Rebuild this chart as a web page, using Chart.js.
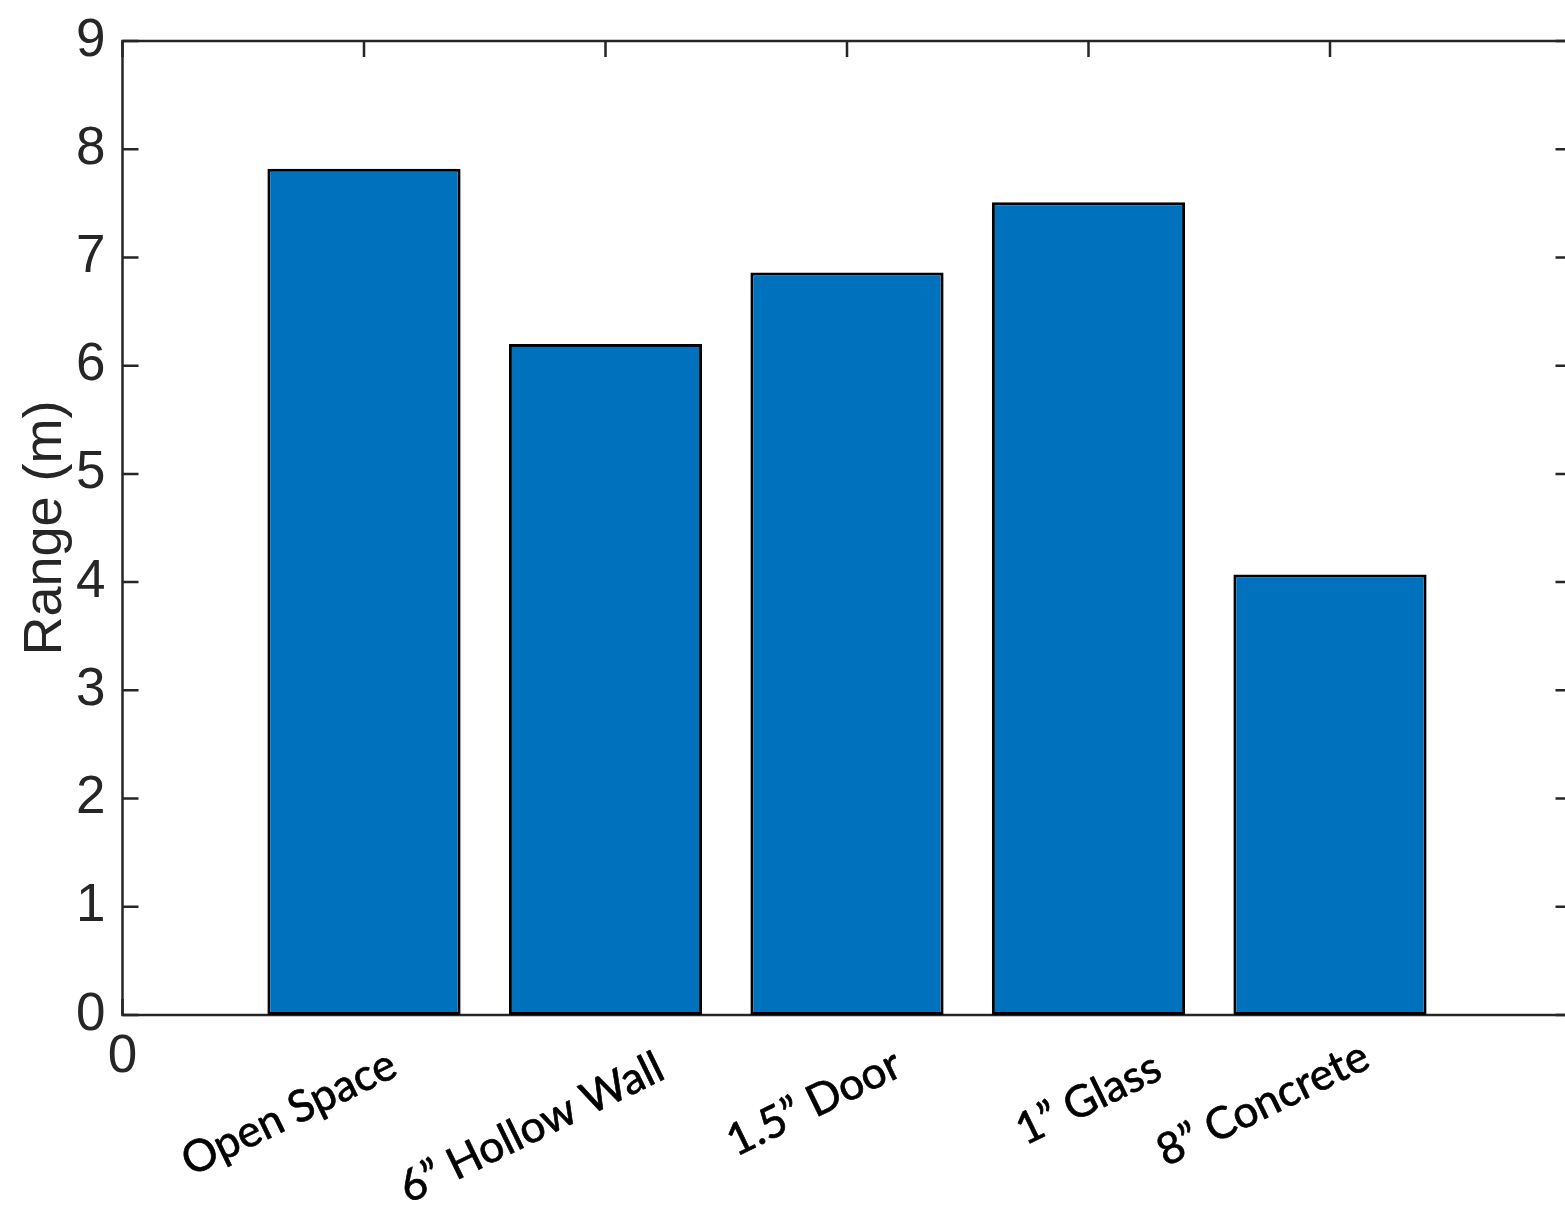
<!DOCTYPE html>
<html>
<head>
<meta charset="utf-8">
<title>Range by obstruction</title>
<script src="https://cdn.jsdelivr.net/npm/chart.js@4.4.1/dist/chart.umd.min.js"></script>
<style>
  html, body { margin: 0; padding: 0; background: #ffffff; }
  #wrap { width: 1565px; height: 1210px; overflow: hidden; position: relative; }
  canvas { display: block; }
</style>
</head>
<body>
<div id="wrap"><canvas id="c" width="1600" height="1210"></canvas></div>
<script>
// ---- data ----
const categories = ['Open Space', '6\u201D Hollow Wall', '1.5\u201D Door', '1\u201D Glass', '8\u201D Concrete'];
const rangeMeters = [7.82, 6.20, 6.86, 7.51, 4.07];
const yTickLabels = ['0', '1', '2', '3', '4', '5', '6', '7', '8', '9'];
const xTickLabels = ['0'];

// ---- styling ----
const AXIS_COLOR = '#262626';
const BAR_COLOR = '#0072BD';
const TICK_LEN = 16;
const AXIS_FONT = 'Liberation Sans, Arial, Helvetica, sans-serif';
const LABEL_FONT = 'Lato, "Open Sans", sans-serif';

// hand-placed category captions: offset of each caption centre from its bar, px
const captionNudge = [
  { dx: -75, dy: 98 },
  { dx: -74, dy: 113 },
  { dx: -33, dy: 88 },
  { dx: 0, dy: 84 },
  { dx: -67, dy: 89 }
];
const CAPTION_ANGLE = -26 * Math.PI / 180;

// box around the plot with inward-pointing ticks on all four sides
const framePlugin = {
  id: 'frame',
  beforeDatasetsDraw(chart) {
    const { ctx, chartArea: a, scales: { x, y } } = chart;
    ctx.save();
    ctx.strokeStyle = AXIS_COLOR;
    ctx.lineWidth = 2.5;
    ctx.lineCap = 'butt';
    ctx.strokeRect(a.left, a.top, a.right - a.left, a.bottom - a.top);
    ctx.beginPath();
    x.ticks.forEach(t => {
      const px = x.getPixelForValue(t.value);
      ctx.moveTo(px, a.top); ctx.lineTo(px, a.top + TICK_LEN);
      ctx.moveTo(px, a.bottom); ctx.lineTo(px, a.bottom - TICK_LEN);
    });
    y.ticks.forEach(t => {
      const py = y.getPixelForValue(t.value);
      ctx.moveTo(a.left, py); ctx.lineTo(a.left + TICK_LEN, py);
      ctx.moveTo(a.right, py); ctx.lineTo(a.right - TICK_LEN, py);
    });
    ctx.stroke();
    ctx.restore();
  }
};

// slanted category captions under the bars
const captionPlugin = {
  id: 'captions',
  afterDraw(chart) {
    const { ctx, chartArea: a, scales: { x } } = chart;
    ctx.save();
    ctx.fillStyle = '#000000';
    ctx.strokeStyle = '#000000';
    ctx.lineWidth = 0.7;
    ctx.lineJoin = 'round';
    ctx.font = '44px ' + LABEL_FONT;
    ctx.textAlign = 'center';
    ctx.textBaseline = 'middle';
    categories.forEach((name, i) => {
      const cx = x.getPixelForValue(i + 1) + captionNudge[i].dx;
      const cy = a.bottom + captionNudge[i].dy;
      ctx.save();
      ctx.translate(cx, cy);
      ctx.rotate(CAPTION_ANGLE);
      ctx.fillText(name, 0, 0);
      ctx.strokeText(name, 0, 0);
      ctx.restore();
    });
    ctx.restore();
  }
};

new Chart(document.getElementById('c'), {
  type: 'bar',
  data: {
    datasets: [{
      data: categories.map((c, i) => ({ x: i + 1, y: rangeMeters[i] })),
      backgroundColor: BAR_COLOR,
      borderColor: '#000000',
      borderWidth: 3,
      borderSkipped: false,
      barPercentage: 0.8,
      categoryPercentage: 1.0
    }]
  },
  options: {
    responsive: false,
    animation: false,
    layout: { padding: { top: 41, right: 28.5, left: 0, bottom: 0 } },
    plugins: { legend: { display: false }, tooltip: { enabled: false } },
    scales: {
      x: {
        type: 'linear',
        min: 0,
        max: 6,
        offset: false,
        grid: { display: false, drawTicks: false, offset: false },
        border: { display: false },
        ticks: {
          stepSize: 1,
          autoSkip: false,
          maxRotation: 0,
          minRotation: 0,
          padding: 11,
          color: AXIS_COLOR,
          font: { family: AXIS_FONT, size: 53 },
          callback: (v) => (v < xTickLabels.length ? xTickLabels[v] : '')
        },
        afterFit(scale) {
          scale.height = 195;
          scale.paddingLeft = 0;
          scale.paddingRight = 0;
        }
      },
      y: {
        min: 0,
        max: 9,
        grid: { display: false, drawTicks: false },
        border: { display: false },
        ticks: {
          stepSize: 1,
          padding: 17,
          color: AXIS_COLOR,
          font: { family: AXIS_FONT, size: 53 },
          callback: (v) => yTickLabels[v]
        },
        title: {
          display: true,
          text: 'Range (m)',
          color: AXIS_COLOR,
          font: { family: AXIS_FONT, size: 54 },
          padding: { top: 14, bottom: 0 }
        },
        afterFit(scale) {
          scale.width = 122.5;
          scale.paddingTop = 0;
          scale.paddingBottom = 0;
        }
      }
    }
  },
  plugins: [framePlugin, captionPlugin]
});
</script>
</body>
</html>
